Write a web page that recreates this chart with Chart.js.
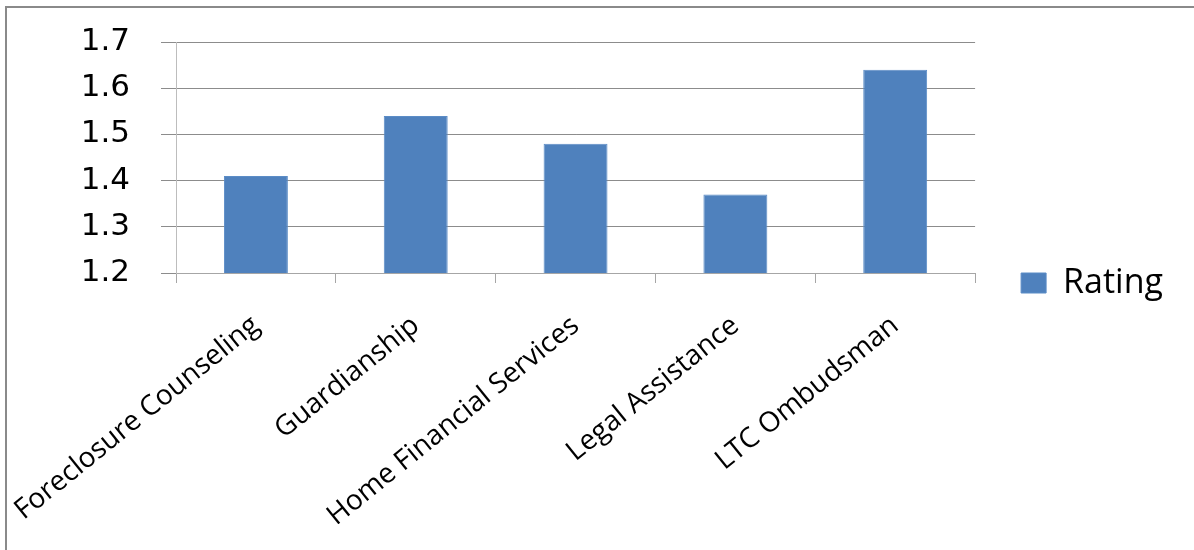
<!DOCTYPE html>
<html>
<head>
<meta charset="utf-8">
<script src="https://cdn.jsdelivr.net/npm/chart.js@4"></script>
<style>
    html, body { margin: 0; padding: 0; background: #fff; }
    #wrap { position: relative; width: 1194px; height: 550px; }
    #frame {
        position: absolute; left: 5px; top: 6px; right: -4px; bottom: -4px;
        border: 2px solid #8a8a8a; pointer-events: none;
    }
    canvas { position: absolute; left: 0; top: 0; }
</style>
</head>
<body>
<div id="wrap">
    <canvas id="ratingChart" width="1194" height="550"></canvas>
    <div id="frame"></div>
</div>
<script>
const services = [
    'Foreclosure Counseling',
    'Guardianship',
    'Home Financial Services',
    'Legal Assistance',
    'LTC Ombudsman'
];
const ratings = [1.41, 1.54, 1.48, 1.37, 1.64];
const yTicks = [1.2, 1.3, 1.4, 1.5, 1.6, 1.7];

const FONT = "'Open Sans', sans-serif";
const NUM_FONT = "'DejaVu Sans', sans-serif";

document.addEventListener('DOMContentLoaded', function () {
    const ctx = document.getElementById('ratingChart').getContext('2d');
    const ratingChart = new Chart(ctx, {
        type: 'bar',
        data: {
            labels: services,
            datasets: [
                {
                    label: 'Rating',
                    data: ratings,
                    backgroundColor: '#4f81bd',
                    borderColor: '#5b8cc6',
                    borderWidth: 1,
                    categoryPercentage: 0.8,
                    barPercentage: 0.5
                }
            ]
        },
        options: {
            responsive: false,
            animation: false,
            layout: {
                padding: { left: 0, top: 42, right: 21, bottom: 26 }
            },
            plugins: {
                legend: {
                    position: 'right',
                    labels: {
                        boxWidth: 25,
                        boxHeight: 20,
                        padding: 46,
                        color: '#000',
                        font: { family: FONT, size: 34 }
                    }
                },
                tooltip: { enabled: false }
            },
            scales: {
                x: {
                    // long rotated labels may hang past the plot edge
                    afterFit: function (scale) {
                        scale.height = 251;
                        scale.paddingLeft = 0;
                        scale.paddingRight = 0;
                    },
                    grid: {
                        offset: true,
                        drawOnChartArea: false,
                        drawTicks: true,
                        tickLength: 10,
                        color: '#a6a6a6'
                    },
                    border: { color: '#a6a6a6', width: 1 },
                    ticks: {
                        minRotation: 39,
                        maxRotation: 39,
                        autoSkip: false,
                        padding: 26,
                        color: '#000',
                        font: { family: FONT, size: 28 }
                    }
                },
                y: {
                    min: 1.2,
                    max: 1.7,
                    afterFit: function (scale) {
                        scale.width = 176;
                        scale.paddingTop = 0;
                        scale.paddingBottom = 0;
                    },
                    afterBuildTicks: function (scale) {
                        scale.ticks = yTicks.map(v => ({ value: v }));
                    },
                    grid: {
                        color: '#8c8c8c',
                        tickLength: 15,
                        lineWidth: 1
                    },
                    border: { color: '#bdbdbd', width: 1 },
                    ticks: {
                        padding: 31,
                        color: '#000',
                        font: { family: NUM_FONT, size: 31 },
                        callback: function (value) { return value.toFixed(1); }
                    }
                }
            }
        }
    });
});
</script>
</body>
</html>
